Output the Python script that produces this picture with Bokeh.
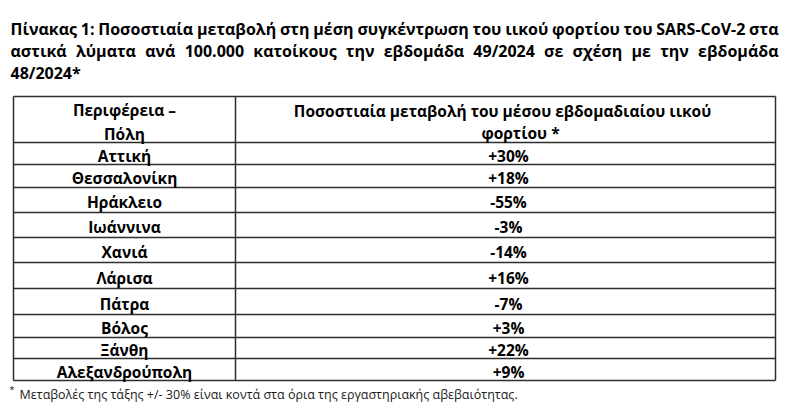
import os
import struct
from bokeh.plotting import figure
from bokeh.models import Range1d, ColumnDataSource
from bokeh.core.properties import value
from bokeh.embed import file_html
from bokeh.resources import INLINE

# ---- data ----
title_line1_words = ["Πίνακας", "1:", "Ποσοστιαία", "μεταβολή", "στη", "μέση", "συγκέντρωση",
                     "του", "ιικού", "φορτίου", "του", "SARS-CoV-2", "στα"]
title_line2_words = ["αστικά", "λύματα", "ανά", "100.000", "κατοίκους", "την", "εβδομάδα",
                     "49/2024", "σε", "σχέση", "με", "την", "εβδομάδα"]
title_line3 = "48/2024*"
header_col1 = ["Περιφέρεια –", "Πόλη"]
header_col2 = ["Ποσοστιαία μεταβολή του μέσου εβδομαδιαίου ιικού", "φορτίου *"]
regions = ["Αττική", "Θεσσαλονίκη", "Ηράκλειο", "Ιωάννινα", "Χανιά", "Λάρισα",
           "Πάτρα", "Βόλος", "Ξάνθη", "Αλεξανδρούπολη"]
changes = [30, 18, -55, -3, -14, 16, -7, 3, 22, 9]
footnote = "Μεταβολές της τάξης +/- 30% είναι κοντά στα όρια της εργαστηριακής αβεβαιότητας."

# ---- layout (pixel positions in the page) ----
W, H = 796, 405
row_edges = [96, 142, 164, 187, 212, 237, 262, 288, 314, 337, 358, 380]
col_edges = [13, 235, 775]
TITLE_LEFT, TITLE_RIGHT = 10, 778
TITLE_SIZE = 16.0

FONT_NAME = "Open Sans"
FONT = value(FONT_NAME)
TXT = "#000000"
GRID = "#2e2e2e"


# ---- text measuring (for justified title lines) ----
def _find_font():
    dirs = ["/usr/share/fonts", "/usr/local/share/fonts",
            os.path.expanduser("~/.fonts"), os.path.expanduser("~/.local/share/fonts")]
    files = []
    for d in dirs:
        if os.path.isdir(d):
            for root, _, fs in os.walk(d):
                for f in fs:
                    files.append(os.path.join(root, f))
    static, var = None, None
    for f in files:
        b = os.path.basename(f).lower()
        if not b.startswith("opensans") or not b.endswith(".ttf") or "italic" in b:
            continue
        if "condensed" in b or "semicondensed" in b:
            continue
        if b.startswith("opensans-bold."):
            static = f
        elif "[" in b or "variable" in b:
            var = f
    if static:
        return static, False
    if var:
        return var, True
    return None, False


def _load_metrics(path):
    data = open(path, "rb").read()
    num = struct.unpack(">H", data[4:6])[0]
    tables = {}
    for i in range(num):
        tag, _, off, ln = struct.unpack(">4sIII", data[12 + 16 * i:28 + 16 * i])
        tables[tag.decode("latin1")] = off
    upem = struct.unpack(">H", data[tables["head"] + 18:tables["head"] + 20])[0]
    nhm = struct.unpack(">H", data[tables["hhea"] + 34:tables["hhea"] + 36])[0]
    ho = tables["hmtx"]
    adv = [struct.unpack(">H", data[ho + 4 * i:ho + 4 * i + 2])[0] for i in range(nhm)]
    co = tables["cmap"]
    n = struct.unpack(">H", data[co + 2:co + 4])[0]
    sub = None
    for i in range(n):
        pid, eid, so = struct.unpack(">HHI", data[co + 4 + 8 * i:co + 12 + 8 * i])
        fmt = struct.unpack(">H", data[co + so:co + so + 2])[0]
        if fmt == 4 and sub is None:
            sub = co + so
    cmap = {}
    if sub is not None:
        segx2 = struct.unpack(">H", data[sub + 6:sub + 8])[0]
        segs = segx2 // 2
        ends_o = sub + 14
        starts_o = ends_o + segx2 + 2
        delta_o = starts_o + segx2
        ro_o = delta_o + segx2
        for s in range(segs):
            end = struct.unpack(">H", data[ends_o + 2 * s:ends_o + 2 * s + 2])[0]
            start = struct.unpack(">H", data[starts_o + 2 * s:starts_o + 2 * s + 2])[0]
            delta = struct.unpack(">h", data[delta_o + 2 * s:delta_o + 2 * s + 2])[0]
            ro = struct.unpack(">H", data[ro_o + 2 * s:ro_o + 2 * s + 2])[0]
            if start == 0xFFFF:
                continue
            for c in range(start, end + 1):
                if ro == 0:
                    g = (c + delta) & 0xFFFF
                else:
                    a = ro_o + 2 * s + ro + 2 * (c - start)
                    g = struct.unpack(">H", data[a:a + 2])[0]
                    if g:
                        g = (g + delta) & 0xFFFF
                cmap[c] = g
    return upem, adv, cmap


_metrics = None
_scale = 1.0
try:
    _path, _is_var = _find_font()
    if _path:
        _metrics = _load_metrics(_path)
        _scale = 1.05 if _is_var else 1.0
except Exception:
    _metrics = None


def text_width(s, size):
    if _metrics is None:
        return len(s) * 0.6 * size
    upem, adv, cmap = _metrics
    tot = 0
    for ch in s:
        g = cmap.get(ord(ch), 0)
        tot += adv[min(g, len(adv) - 1)]
    return tot / upem * size * _scale


def justify(words, left, right, size):
    ws = [text_width(w, size) for w in words]
    gap = (right - left - sum(ws)) / (len(words) - 1)
    xs, x = [], left
    for w in ws:
        xs.append(x)
        x += w + gap
    return xs


p = figure(width=W, height=H, output_backend="svg", toolbar_location=None,
           x_range=Range1d(0, W), y_range=Range1d(H, 0),
           min_border=0, min_border_left=0, min_border_right=0,
           min_border_top=0, min_border_bottom=0)
p.axis.visible = False
p.grid.visible = False
p.outline_line_color = None
p.background_fill_color = "white"
p.border_fill_color = "white"

# title (justified lines 1-2)
tsize = "%.1fpx" % TITLE_SIZE
x1s = justify(title_line1_words, TITLE_LEFT, TITLE_RIGHT, TITLE_SIZE)
x2s = justify(title_line2_words, TITLE_LEFT, TITLE_RIGHT, TITLE_SIZE)
p.text(x=x1s, y=[28] * len(x1s), text=title_line1_words, text_font=FONT,
       text_font_style="bold", text_font_size=tsize, text_align="left",
       text_baseline="alphabetic", text_color=TXT)
p.text(x=x2s, y=[50] * len(x2s), text=title_line2_words, text_font=FONT,
       text_font_style="bold", text_font_size=tsize, text_align="left",
       text_baseline="alphabetic", text_color=TXT)
p.text(x=[TITLE_LEFT], y=[72], text=[title_line3], text_font=FONT, text_font_style="bold",
       text_font_size=tsize, text_align="left", text_baseline="alphabetic", text_color=TXT)

# table grid
x0, x1 = col_edges[0], col_edges[-1]
p.segment(x0=[x0] * len(row_edges), x1=[x1] * len(row_edges), y0=row_edges, y1=row_edges,
          line_color=GRID, line_width=1.5)
p.segment(x0=col_edges, x1=col_edges, y0=[row_edges[0]] * len(col_edges),
          y1=[row_edges[-1]] * len(col_edges), line_color=GRID, line_width=1.5)

c1 = (col_edges[0] + col_edges[1]) / 2
c2 = (col_edges[1] + col_edges[2]) / 2

# header
p.text(x=[c1, c1], y=[109, 133], text=header_col1, text_font=FONT, text_font_style="bold",
       text_font_size="15.5px", text_align="center", text_baseline="alphabetic", text_color=TXT)
p.text(x=[c2 - 3, c2 + 15], y=[110, 132], text=header_col2, text_font=FONT,
       text_font_style="bold", text_font_size="15.5px", text_align="center",
       text_baseline="alphabetic", text_color=TXT)

# body
ys = [(row_edges[i + 1] + row_edges[i + 2]) / 2 + 2 for i in range(len(regions))]
labels = [("+%d%%" % v) if v > 0 else ("%d%%" % v) for v in changes]
src = ColumnDataSource(dict(y=ys, region=regions, label=labels,
                            xa=[c1] * len(regions), xb=[c2 + 3] * len(regions)))
p.text(x="xa", y="y", text="region", source=src, text_font=FONT, text_font_style="bold",
       text_font_size="15.5px", text_align="center", text_baseline="alphabetic", text_color=TXT)
p.text(x="xb", y="y", text="label", source=src, text_font=FONT, text_font_style="bold",
       text_font_size="15.5px", text_align="center", text_baseline="alphabetic", text_color=TXT)

# footnote
p.text(x=[9], y=[389], text=["*"], text_font=FONT, text_font_size="9px",
       text_align="left", text_baseline="alphabetic", text_color=TXT)
p.text(x=[19], y=[394], text=[footnote], text_font=FONT, text_font_size="12.5px",
       text_align="left", text_baseline="alphabetic", text_color="#1a1a1a")

open("out.html", "w").write(file_html(p, INLINE))
